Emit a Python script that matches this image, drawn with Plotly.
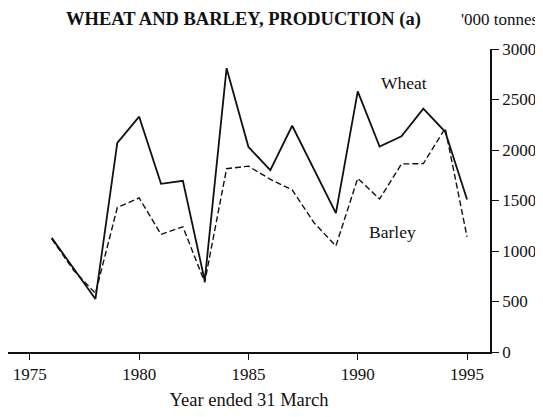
import plotly.graph_objects as go

# ─── Data ─────────────────────────────────────────────────────────────────────

years = list(range(1976, 1996))

wheat = [1130, 830, 525, 2070, 2330, 1665, 1695, 705, 2810, 2030,
         1800, 2240, 1810, 1375, 2580, 2035, 2135, 2410, 2180, 1510]

barley = [1120, 810, 580, 1430, 1525, 1165, 1240, 690, 1815, 1840,
          1710, 1605, 1280, 1050, 1720, 1515, 1862, 1865, 2215, 1140]

x_ticks = [1975, 1980, 1985, 1990, 1995]
y_ticks = [0, 500, 1000, 1500, 2000, 2500, 3000]

SERIF = 'Liberation Serif, Times New Roman, serif'
INK = '#111111'

# page body adds an 8px margin, so the figure is sized to the remaining area
W, H = 535, 409

# ─── Chart ────────────────────────────────────────────────────────────────────

fig = go.Figure()

fig.add_trace(go.Scatter(
    x=years, y=wheat, name='Wheat', mode='lines',
    line=dict(color=INK, width=1.8),
))
fig.add_trace(go.Scatter(
    x=years, y=barley, name='Barley', mode='lines',
    line=dict(color=INK, width=1.4, dash='6px,3px'),
))

fig.update_layout(
    width=W, height=H,
    margin=dict(l=0, r=53, t=41, b=65),
    paper_bgcolor='white', plot_bgcolor='white',
    font=dict(family=SERIF, color=INK, size=17),
    showlegend=False,
    xaxis=dict(
        range=[1974.0, 1996.05],
        tickvals=x_ticks,
        showgrid=False, zeroline=False,
        showline=True, linecolor=INK, linewidth=1.5,
        ticks='outside', ticklen=6, tickcolor=INK, tickwidth=1.2,
        tickfont=dict(size=17),
        title=dict(text='Year ended 31 March', font=dict(size=18.5), standoff=10),
    ),
    yaxis=dict(
        range=[0, 3000],
        side='right',
        tickvals=y_ticks,
        showgrid=False, zeroline=False,
        showline=True, linecolor=INK, linewidth=1.5,
        ticks='outside', ticklen=7, tickcolor=INK, tickwidth=1.2,
        tickfont=dict(size=17),
    ),
    annotations=[
        dict(text='<b>WHEAT AND BARLEY, PRODUCTION (a)</b>',
             xref='paper', yref='paper', x=235 / 482, y=1,
             xanchor='center', yanchor='middle', yshift=30, showarrow=False,
             borderpad=0, font=dict(size=18.5, family=SERIF)),
        dict(text="'000 tonnes",
             xref='paper', yref='paper', x=1, y=1,
             xanchor='right', yanchor='middle', yshift=30, xshift=49,
             borderpad=0, showarrow=False, font=dict(size=17, family=SERIF)),
        dict(text='Wheat', x=1992.1, y=2660, xref='x', yref='y',
             showarrow=False, font=dict(size=17.5, family=SERIF)),
        dict(text='Barley', x=1991.6, y=1185, xref='x', yref='y',
             showarrow=False, font=dict(size=17.5, family=SERIF)),
    ],
)

fig.write_html('out.html')
